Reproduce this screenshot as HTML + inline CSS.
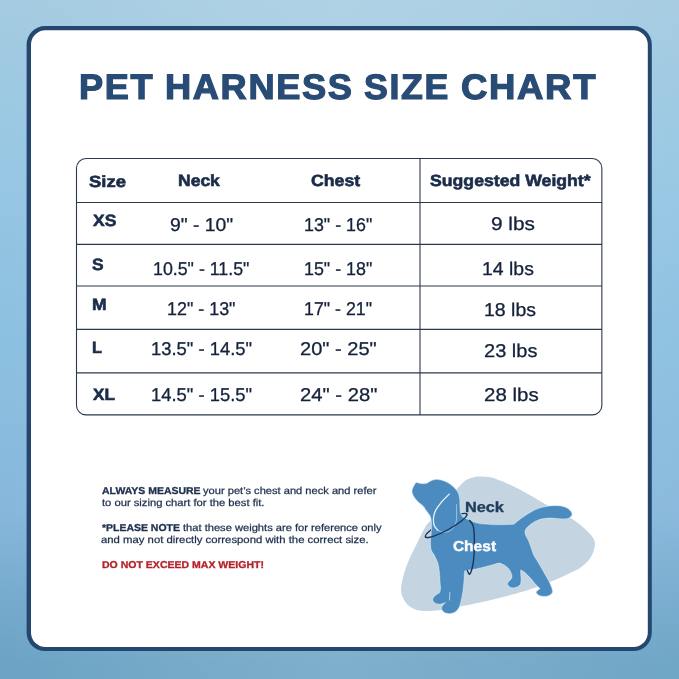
<!DOCTYPE html>
<html lang="en">
<head>
<meta charset="utf-8">
<title>Pet Harness Size Chart</title>
<style>
html,body{margin:0;padding:0;}
body{width:679px;height:679px;overflow:hidden;position:relative;font-family:"Liberation Sans",sans-serif;text-rendering:geometricPrecision;
background:linear-gradient(90deg,rgba(255,255,255,0) 1%,rgba(255,255,255,0.075) 25%,rgba(255,255,255,0.135) 50%,rgba(255,255,255,0.09) 75%,rgba(255,255,255,0.03) 99%),linear-gradient(180deg,#a4cbe1 1%,#97c7e3 25%,#8cc0e0 50%,#87b8dc 75%,#76abce 88%,#6ba3c4 98%);}
.card{position:absolute;left:0;top:0;width:679px;height:679px;}
.t{position:absolute;white-space:nowrap;line-height:1;transform-origin:0 0;display:block;color:#1b2c4a;}
.t.ti{color:#284c76;font-weight:700;-webkit-text-stroke:1.2px #284c76;}
.t.b{font-weight:700;-webkit-text-stroke:0.6px #1b2c4a;}
.t.v{color:#15223a;-webkit-text-stroke:0.3px #15223a;}
h1{margin:0;font-size:0;font-weight:700;}
.grid{position:absolute;left:0;top:0;width:679px;height:679px;}
.notes p{margin:0;}
.t.n{color:#1d2f4d;-webkit-text-stroke:0.25px #1d2f4d;}
.t.nb{color:#1d2f4d;font-weight:700;-webkit-text-stroke:0.3px #1d2f4d;}
.t.red{color:#b3222b;-webkit-text-stroke-color:#b3222b;}
</style>
</head>
<body>
<svg class="card" viewBox="0 0 679 679">
  <rect x="26.6" y="26" width="625.2" height="625.1" rx="18.5" ry="18.5" fill="#25476f"/>
  <rect x="31" y="30.2" width="616.8" height="616.8" rx="14.5" ry="14.5" fill="#ffffff"/>
</svg>
<h1><span class="t ti" style="left:79.33px;top:70px;font-size:35.3px;transform:scaleX(1.0243);letter-spacing:1.6px;">PET</span> <span class="t ti" style="left:165.23px;top:70px;font-size:35.3px;transform:scaleX(1.0264);letter-spacing:1.6px;">HARNESS</span> <span class="t ti" style="left:364.49px;top:70px;font-size:35.3px;transform:scaleX(1.0117);letter-spacing:1.6px;">SIZE</span> <span class="t ti" style="left:460.64px;top:70px;font-size:35.3px;transform:scaleX(1.0351);letter-spacing:1.6px;">CHART</span></h1>
<svg class="grid" viewBox="0 0 679 679">
  <g fill="none" stroke="#2c394b" stroke-width="1.1">
    <rect x="76.5" y="158.5" width="525.35" height="256.4" rx="9.5" ry="9.5"/>
    <line x1="76.5" y1="202.5" x2="602" y2="202.5"/>
    <line x1="76.5" y1="244.4" x2="602" y2="244.4"/>
    <line x1="76.5" y1="286" x2="602" y2="286"/>
    <line x1="76.5" y1="329.4" x2="602" y2="329.4"/>
    <line x1="76.5" y1="372.9" x2="602" y2="372.9"/>
    <line x1="420" y1="158.5" x2="420" y2="414.9"/>
  </g>
</svg>
<div class="tbl">
<span class="t b" style="left:88.83px;top:174px;font-size:16.2px;transform:scaleX(1.1399);">Size</span>
<span class="t b" style="left:178.15px;top:173px;font-size:16.2px;transform:scaleX(1.0815);">Neck</span>
<span class="t b" style="left:311.49px;top:173px;font-size:16.2px;transform:scaleX(1.0923);">Chest</span>
<span class="t b" style="left:429.95px;top:173px;font-size:16.2px;transform:scaleX(1.0912);">Suggested Weight*</span>
<span class="t b" style="left:92.60px;top:213px;font-size:16.4px;transform:scaleX(1.0672);">XS</span>
<span class="t b" style="left:92.45px;top:257px;font-size:16.4px;transform:scaleX(1.0596);">S</span>
<span class="t b" style="left:91.75px;top:297px;font-size:16.4px;transform:scaleX(1.0649);">M</span>
<span class="t b" style="left:92.13px;top:340px;font-size:16.4px;transform:scaleX(0.9894);">L</span>
<span class="t b" style="left:92.80px;top:387px;font-size:16.4px;transform:scaleX(1.0429);">XL</span>
<span class="t v" style="left:170.28px;top:216px;font-size:18.5px;transform:scaleX(1.0448);">9" - 10"</span>
<span class="t v" style="left:153.00px;top:260px;font-size:18.5px;transform:scaleX(0.9616);">10.5" - 11.5"</span>
<span class="t v" style="left:167.10px;top:300px;font-size:18.5px;transform:scaleX(0.9682);">12" - 13"</span>
<span class="t v" style="left:150.96px;top:340px;font-size:18.5px;transform:scaleX(0.9955);">13.5" - 14.5"</span>
<span class="t v" style="left:150.96px;top:386px;font-size:18.5px;transform:scaleX(0.9955);">14.5" - 15.5"</span>
<span class="t v" style="left:304.10px;top:216px;font-size:18.5px;transform:scaleX(0.9653);">13" - 16"</span>
<span class="t v" style="left:304.10px;top:260px;font-size:18.5px;transform:scaleX(0.9653);">15" - 18"</span>
<span class="t v" style="left:304.30px;top:300px;font-size:18.5px;transform:scaleX(0.9624);">17" - 21"</span>
<span class="t v" style="left:300.15px;top:340px;font-size:18.5px;transform:scaleX(1.0845);">20" - 25"</span>
<span class="t v" style="left:299.54px;top:386px;font-size:18.5px;transform:scaleX(1.0932);">24" - 28"</span>
<span class="t v" style="left:491.42px;top:215px;font-size:18.5px;transform:scaleX(1.1249);">9 lbs</span>
<span class="t v" style="left:482.19px;top:260px;font-size:18.5px;transform:scaleX(1.0502);">14 lbs</span>
<span class="t v" style="left:484.48px;top:301px;font-size:18.5px;transform:scaleX(1.0544);">18 lbs</span>
<span class="t v" style="left:484.45px;top:342px;font-size:18.5px;transform:scaleX(1.0817);">23 lbs</span>
<span class="t v" style="left:483.73px;top:386px;font-size:18.5px;transform:scaleX(1.1068);">28 lbs</span>
</div>
<div class="notes">
<p><span class="t nb" style="left:101.54px;top:487px;font-size:10.0px;transform:scaleX(1.0479);">ALWAYS MEASURE</span> <span class="t n" style="left:202.93px;top:487px;font-size:10.0px;transform:scaleX(1.1114);">your pet’s chest and neck and refer</span> <span class="t n" style="left:101.61px;top:499px;font-size:10.0px;transform:scaleX(1.1198);">to our sizing chart for the best fit.</span></p>
<p><span class="t nb" style="left:101.95px;top:524px;font-size:10.0px;transform:scaleX(1.0461);">*PLEASE NOTE</span> <span class="t n" style="left:182.71px;top:524px;font-size:10.0px;transform:scaleX(1.1128);">that these weights are for reference only</span> <span class="t n" style="left:101.27px;top:536px;font-size:10.0px;transform:scaleX(1.1333);">and may not directly correspond with the correct size.</span></p>
<p><span class="t nb red" style="left:101.62px;top:561px;font-size:10.0px;transform:scaleX(1.0524);">DO NOT EXCEED MAX WEIGHT!</span></p>

</div>
<svg class="grid" viewBox="0 0 679 679" font-family="Liberation Sans, sans-serif">
  <path d="M472.1,477.7C474.6,477.0 476.3,476.7 479.5,476.6C482.7,476.6 487.5,476.7 491.2,477.4C494.9,478.1 497.3,479.3 501.5,481.0C505.7,482.7 511.4,485.2 516.3,487.7C521.2,490.2 525.4,492.6 531.0,495.8C536.6,499.0 543.3,503.0 550.0,506.8C556.7,510.6 565.6,515.0 571.3,518.6C577.0,522.2 580.6,525.1 584.2,528.3C587.8,531.5 591.3,535.0 593.1,538.0C594.9,541.0 595.2,542.9 594.8,546.1C594.4,549.4 593.0,554.0 590.7,557.5C588.4,561.0 584.8,564.5 581.0,567.2C577.2,570.0 572.9,571.6 568.0,574.0C563.1,576.4 557.7,578.9 551.8,581.3C545.9,583.7 538.3,586.6 532.4,588.6C526.5,590.6 521.6,592.0 516.2,593.5C510.8,595.0 505.9,596.2 500.0,597.7C494.1,599.2 487.7,600.8 481.0,602.2C474.3,603.7 466.8,605.1 460.0,606.4C453.2,607.7 447.0,609.3 440.5,610.0C434.0,610.7 426.2,611.4 421.1,610.8C416.0,610.2 412.7,608.5 409.7,606.4C406.7,604.3 404.6,601.5 403.2,598.3C401.8,595.1 400.6,592.4 401.2,587.0C401.8,581.6 404.0,573.0 406.5,566.0C409.0,559.0 413.0,551.6 416.2,545.0C419.4,538.4 423.1,530.6 425.5,526.5C427.9,522.4 427.5,524.3 430.6,520.4C433.7,516.5 439.5,508.3 444.0,503.0C448.5,497.7 453.9,492.1 457.4,488.4C460.8,484.7 462.2,482.8 464.7,481.0C467.1,479.2 469.6,478.4 472.1,477.7Z" fill="#c4d5e1"/>
  <ellipse cx="446.1" cy="525.5" rx="23.6" ry="4.6" transform="rotate(-28.8 446.1 525.5)" fill="none" stroke="#1b3557" stroke-width="1.3"/>
  <path d="M416.2,483.1C417.1,483.3 419.7,484.2 421.5,484.3C423.3,484.4 425.1,484.4 426.8,483.9C428.5,483.4 429.9,481.9 431.5,481.3C433.1,480.7 434.4,480.2 436.2,480.1C438.0,480.1 440.2,480.4 442.1,481.0C444.1,481.6 446.0,482.3 447.9,483.4C449.8,484.5 451.7,485.9 453.3,487.4C454.9,488.9 456.4,490.6 457.4,492.5C458.3,494.4 458.7,496.5 459.0,498.7C459.3,500.9 459.1,503.5 459.3,505.9C459.5,508.3 459.4,511.2 460.0,513.1C460.6,515.0 461.5,516.2 462.6,517.3C463.7,518.4 465.3,519.0 466.5,519.6C467.7,520.2 468.5,520.0 470.0,520.6C471.5,521.2 472.9,522.5 475.5,523.2C478.1,523.9 481.5,524.4 485.8,524.7C490.1,525.1 496.5,525.3 501.2,525.3C505.9,525.3 511.7,525.0 513.8,524.9C515.1,523.8 519.2,520.3 521.9,518.4C524.6,516.5 527.4,514.7 530.0,513.2C532.6,511.7 534.4,510.5 537.5,509.4C540.6,508.3 544.9,507.3 548.6,506.8C552.3,506.3 556.8,506.2 559.9,506.6C563.0,507.0 565.6,507.8 567.5,509.0C569.4,510.2 571.2,512.3 571.4,513.7C571.6,515.1 570.4,516.6 568.8,517.4C567.2,518.1 565.0,518.2 561.6,518.2C558.2,518.2 552.5,517.2 548.6,517.4C544.8,517.6 541.5,518.1 538.5,519.2C535.5,520.3 532.7,522.1 530.5,523.8C528.3,525.5 526.2,527.5 525.2,529.2C524.2,530.9 524.1,532.0 524.6,534.0C525.1,536.0 527.1,538.8 528.1,541.2C529.1,543.6 529.8,546.0 530.7,548.4C531.6,550.8 532.0,553.0 533.3,555.6C534.6,558.2 536.8,561.0 538.5,563.9C540.2,566.8 541.9,570.0 543.6,573.1C545.3,576.2 547.5,579.6 548.8,582.4C550.1,585.1 551.2,587.8 551.6,589.6C552.0,591.4 552.1,592.2 551.3,593.2C550.5,594.2 548.5,595.2 546.7,595.6C544.9,596.0 542.1,595.7 540.5,595.3C538.9,594.9 537.7,593.9 537.2,593.2C536.7,592.5 536.9,592.0 537.4,591.2C537.9,590.4 540.7,589.7 540.5,588.6C540.3,587.5 537.9,586.2 536.4,584.5C534.9,582.8 533.1,580.4 531.2,578.3C529.3,576.2 526.9,573.6 525.1,572.1C523.3,570.6 521.2,569.5 520.4,569.0C520.3,569.6 520.0,571.0 520.0,572.5C520.0,574.0 520.4,576.4 520.4,578.3C520.4,580.2 520.5,582.6 519.9,584.0C519.3,585.4 518.2,586.0 516.8,586.5C515.4,587.0 513.0,587.4 511.6,587.1C510.2,586.9 508.9,585.8 508.4,585.0C507.9,584.2 508.0,583.5 508.6,582.4C509.2,581.3 511.6,579.7 512.2,578.3C512.8,576.9 512.6,575.8 512.2,574.2C511.8,572.7 510.9,570.6 509.6,569.0C508.3,567.4 506.2,565.7 504.5,564.6C502.8,563.5 501.3,562.5 499.2,562.4C497.1,562.3 494.9,563.5 492.0,564.3C489.1,565.1 485.3,566.2 481.9,567.0C478.5,567.8 474.4,568.6 471.5,569.1C468.6,569.6 465.5,570.1 464.3,570.3C464.2,570.9 464.0,571.9 463.8,573.7C463.6,575.5 463.6,578.0 463.3,580.9C463.1,583.8 462.7,588.1 462.3,591.2C461.9,594.3 461.3,596.9 460.7,599.5C460.1,602.1 459.6,604.7 458.7,606.7C457.8,608.7 456.6,610.3 455.1,611.3C453.6,612.3 451.6,612.8 449.9,612.9C448.2,613.0 446.0,612.6 444.7,611.9C443.4,611.2 442.4,609.8 442.2,608.8C441.9,607.8 442.3,607.0 443.2,605.7C444.1,604.4 446.9,601.8 447.6,601.0C447.0,601.3 445.2,602.2 443.7,602.6C442.2,603.0 440.2,603.7 438.6,603.6C437.1,603.5 435.3,602.9 434.4,602.1C433.5,601.3 433.2,600.0 433.4,599.0C433.6,598.0 434.5,596.9 435.5,595.9C436.5,594.9 438.7,594.4 439.6,593.3C440.5,592.2 440.9,591.3 441.1,589.2C441.3,587.1 440.8,583.6 440.6,580.9C440.4,578.1 440.4,575.6 440.1,572.7C439.8,569.8 439.4,566.1 438.6,563.4C437.8,560.6 436.6,558.5 435.5,556.2C434.4,553.9 432.5,552.2 431.8,549.7C431.1,547.2 431.1,543.8 431.1,541.0C431.1,538.2 431.7,535.6 431.9,532.7C432.1,529.8 432.3,526.1 432.2,523.5C432.1,520.9 431.6,518.4 431.1,516.8C430.6,515.1 430.0,514.8 429.2,513.6C428.4,512.4 427.1,510.8 426.2,509.5C425.3,508.2 424.9,507.1 423.9,506.0C422.9,504.9 421.7,504.3 420.4,503.1C419.1,501.9 417.3,500.3 416.2,498.9C415.1,497.5 414.2,496.1 413.6,494.8C413.0,493.5 412.7,492.5 412.7,491.3C412.7,490.1 413.0,489.2 413.6,487.8C414.2,486.4 415.8,483.9 416.2,483.1Z" fill="#4b8bc0" stroke="#c9e4f6" stroke-width="2" stroke-linejoin="round"/>
  <path d="M416.2,483.1C417.1,483.3 419.7,484.2 421.5,484.3C423.3,484.4 425.1,484.4 426.8,483.9C428.5,483.4 429.9,481.9 431.5,481.3C433.1,480.7 434.4,480.2 436.2,480.1C438.0,480.1 440.2,480.4 442.1,481.0C444.1,481.6 446.0,482.3 447.9,483.4C449.8,484.5 451.7,485.9 453.3,487.4C454.9,488.9 456.4,490.6 457.4,492.5C458.3,494.4 458.7,496.5 459.0,498.7C459.3,500.9 459.1,503.5 459.3,505.9C459.5,508.3 459.4,511.2 460.0,513.1C460.6,515.0 461.5,516.2 462.6,517.3C463.7,518.4 465.3,519.0 466.5,519.6C467.7,520.2 468.5,520.0 470.0,520.6C471.5,521.2 472.9,522.5 475.5,523.2C478.1,523.9 481.5,524.4 485.8,524.7C490.1,525.1 496.5,525.3 501.2,525.3C505.9,525.3 511.7,525.0 513.8,524.9C515.1,523.8 519.2,520.3 521.9,518.4C524.6,516.5 527.4,514.7 530.0,513.2C532.6,511.7 534.4,510.5 537.5,509.4C540.6,508.3 544.9,507.3 548.6,506.8C552.3,506.3 556.8,506.2 559.9,506.6C563.0,507.0 565.6,507.8 567.5,509.0C569.4,510.2 571.2,512.3 571.4,513.7C571.6,515.1 570.4,516.6 568.8,517.4C567.2,518.1 565.0,518.2 561.6,518.2C558.2,518.2 552.5,517.2 548.6,517.4C544.8,517.6 541.5,518.1 538.5,519.2C535.5,520.3 532.7,522.1 530.5,523.8C528.3,525.5 526.2,527.5 525.2,529.2C524.2,530.9 524.1,532.0 524.6,534.0C525.1,536.0 527.1,538.8 528.1,541.2C529.1,543.6 529.8,546.0 530.7,548.4C531.6,550.8 532.0,553.0 533.3,555.6C534.6,558.2 536.8,561.0 538.5,563.9C540.2,566.8 541.9,570.0 543.6,573.1C545.3,576.2 547.5,579.6 548.8,582.4C550.1,585.1 551.2,587.8 551.6,589.6C552.0,591.4 552.1,592.2 551.3,593.2C550.5,594.2 548.5,595.2 546.7,595.6C544.9,596.0 542.1,595.7 540.5,595.3C538.9,594.9 537.7,593.9 537.2,593.2C536.7,592.5 536.9,592.0 537.4,591.2C537.9,590.4 540.7,589.7 540.5,588.6C540.3,587.5 537.9,586.2 536.4,584.5C534.9,582.8 533.1,580.4 531.2,578.3C529.3,576.2 526.9,573.6 525.1,572.1C523.3,570.6 521.2,569.5 520.4,569.0C520.3,569.6 520.0,571.0 520.0,572.5C520.0,574.0 520.4,576.4 520.4,578.3C520.4,580.2 520.5,582.6 519.9,584.0C519.3,585.4 518.2,586.0 516.8,586.5C515.4,587.0 513.0,587.4 511.6,587.1C510.2,586.9 508.9,585.8 508.4,585.0C507.9,584.2 508.0,583.5 508.6,582.4C509.2,581.3 511.6,579.7 512.2,578.3C512.8,576.9 512.6,575.8 512.2,574.2C511.8,572.7 510.9,570.6 509.6,569.0C508.3,567.4 506.2,565.7 504.5,564.6C502.8,563.5 501.3,562.5 499.2,562.4C497.1,562.3 494.9,563.5 492.0,564.3C489.1,565.1 485.3,566.2 481.9,567.0C478.5,567.8 474.4,568.6 471.5,569.1C468.6,569.6 465.5,570.1 464.3,570.3C464.2,570.9 464.0,571.9 463.8,573.7C463.6,575.5 463.6,578.0 463.3,580.9C463.1,583.8 462.7,588.1 462.3,591.2C461.9,594.3 461.3,596.9 460.7,599.5C460.1,602.1 459.6,604.7 458.7,606.7C457.8,608.7 456.6,610.3 455.1,611.3C453.6,612.3 451.6,612.8 449.9,612.9C448.2,613.0 446.0,612.6 444.7,611.9C443.4,611.2 442.4,609.8 442.2,608.8C441.9,607.8 442.3,607.0 443.2,605.7C444.1,604.4 446.9,601.8 447.6,601.0C447.0,601.3 445.2,602.2 443.7,602.6C442.2,603.0 440.2,603.7 438.6,603.6C437.1,603.5 435.3,602.9 434.4,602.1C433.5,601.3 433.2,600.0 433.4,599.0C433.6,598.0 434.5,596.9 435.5,595.9C436.5,594.9 438.7,594.4 439.6,593.3C440.5,592.2 440.9,591.3 441.1,589.2C441.3,587.1 440.8,583.6 440.6,580.9C440.4,578.1 440.4,575.6 440.1,572.7C439.8,569.8 439.4,566.1 438.6,563.4C437.8,560.6 436.6,558.5 435.5,556.2C434.4,553.9 432.5,552.2 431.8,549.7C431.1,547.2 431.1,543.8 431.1,541.0C431.1,538.2 431.7,535.6 431.9,532.7C432.1,529.8 432.3,526.1 432.2,523.5C432.1,520.9 431.6,518.4 431.1,516.8C430.6,515.1 430.0,514.8 429.2,513.6C428.4,512.4 427.1,510.8 426.2,509.5C425.3,508.2 424.9,507.1 423.9,506.0C422.9,504.9 421.7,504.3 420.4,503.1C419.1,501.9 417.3,500.3 416.2,498.9C415.1,497.5 414.2,496.1 413.6,494.8C413.0,493.5 412.7,492.5 412.7,491.3C412.7,490.1 413.0,489.2 413.6,487.8C414.2,486.4 415.8,483.9 416.2,483.1Z" fill="#4b8bc0" stroke="#4380b4" stroke-width="0.6" stroke-linejoin="round"/>
  <path d="M449.9,592.3L449.4,600" fill="none" stroke="#b4d8f0" stroke-width="0.9" stroke-linecap="round"/>
  <path d="M449.2,494.1C447.8,495.6 443.2,500.0 440.9,502.8C438.6,505.6 436.5,508.5 435.3,511.1C434.1,513.7 433.7,515.9 433.5,518.3C433.3,520.7 433.5,523.5 434.2,525.5C434.9,527.5 436.2,529.1 437.8,530.2C439.4,531.3 441.9,532.1 444.0,532.2C446.1,532.3 448.5,531.7 450.2,530.7C451.9,529.8 453.3,528.2 454.3,526.5C455.3,524.8 456.0,522.8 456.4,520.4C456.8,518.0 456.6,514.8 456.6,512.1C456.6,509.4 456.4,505.7 456.4,504.4" fill="none" stroke="#a9d4f0" stroke-width="0.8" stroke-linecap="round"/>
  <path d="M449.2,494.1C447.8,495.6 443.2,500.0 440.9,502.8C438.6,505.6 436.5,508.5 435.3,511.1C434.1,513.7 433.7,515.9 433.5,518.3C433.3,520.7 433.5,523.5 434.2,525.5C434.9,527.5 437.2,529.4 437.8,530.2" fill="none" stroke="#dcf0fc" stroke-width="1.3" stroke-linecap="round"/>
  <path d="M425.4,536.9 A23.6,4.6 -28.8 0 0 466.8,514.1" fill="none" stroke="#1b3557" stroke-width="1.3" stroke-linecap="round"/>
  <path d="M469.6,520.4C470.2,521.5 472.6,523.3 473.4,526.8C474.2,530.3 474.3,536.2 474.4,541.2C474.5,546.2 474.2,552.4 473.9,556.7C473.6,561.0 473.1,564.1 472.4,567.0C471.7,569.9 470.5,573.6 469.6,574.2C468.8,574.8 467.7,571.0 467.3,570.4" fill="none" stroke="#1b3557" stroke-width="1.4" stroke-linecap="round" stroke-linejoin="round"/>
  <text x="464.9" y="512" font-size="14.7" font-weight="700" fill="#1f3c5e" stroke="#1f3c5e" stroke-width="0.35" textLength="39" lengthAdjust="spacingAndGlyphs">Neck</text>
  <text x="452.9" y="551" font-size="14.5" font-weight="700" fill="#ffffff" stroke="#ffffff" stroke-width="0.35" textLength="43.2" lengthAdjust="spacingAndGlyphs">Chest</text>
</svg>

</body>
</html>
